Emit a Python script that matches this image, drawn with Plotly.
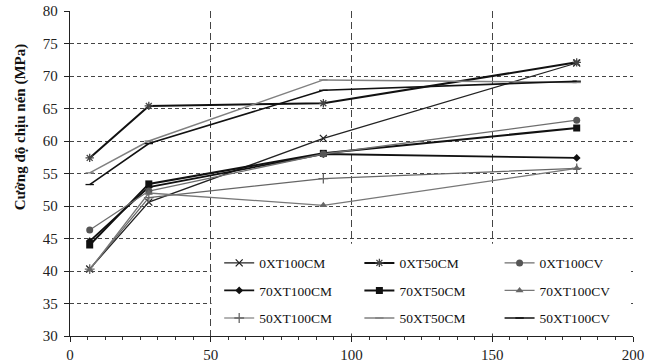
import plotly.graph_objects as go

ages = [7, 28, 90, 180]
s_0XT100CM = [40.3, 50.6, 60.4, 72.0]
s_0XT50CM = [57.4, 65.4, 65.8, 72.1]
s_0XT100CV = [46.3, 52.3, 58.0, 63.2]
s_70XT100CM = [44.6, 52.9, 58.0, 57.4]
s_70XT50CM = [44.0, 53.4, 58.1, 62.0]
s_70XT100CV = [40.2, 52.0, 50.1, 55.8]
s_50XT100CM = [40.3, 51.3, 54.2, 55.8]
s_50XT50CM = [55.1, 60.0, 69.4, 69.0]
s_50XT100CV = [53.3, 59.6, 67.8, 69.2]

x_ticks = [0, 50, 100, 150, 200]
y_ticks = [30, 35, 40, 45, 50, 55, 60, 65, 70, 75, 80]
y_title = "Cường độ chịu nén (MPa)"

FONT = "Liberation Serif"

series = [
    # name, values, line color, line width, marker symbol, marker size, marker color, legend
    ("0XT100CM", s_0XT100CM, "#222222", 1.3, "x-thin-open", 7, "#222222", "legend"),
    ("70XT100CM", s_70XT100CM, "#111111", 1.8, "diamond", 6, "#111111", "legend"),
    ("50XT100CM", s_50XT100CM, "#666666", 1.2, "cross-thin-open", 7, "#666666", "legend"),
    ("0XT50CM", s_0XT50CM, "#111111", 2.0, "asterisk-open", 7, "#444444", "legend2"),
    ("70XT50CM", s_70XT50CM, "#111111", 2.0, "square", 7, "#111111", "legend2"),
    ("50XT50CM", s_50XT50CM, "#808080", 1.5, "line-ew-open", 6, "#808080", "legend2"),
    ("0XT100CV", s_0XT100CV, "#6e6e6e", 1.3, "circle", 7, "#555555", "legend3"),
    ("70XT100CV", s_70XT100CV, "#777777", 1.3, "triangle-up", 7, "#666666", "legend3"),
    ("50XT100CV", s_50XT100CV, "#111111", 1.6, "line-ew-open", 6, "#111111", "legend3"),
]

fig = go.Figure()
for name, vals, lc, lw, sym, ms, mc, lg in series:
    marker = dict(symbol=sym, size=ms, color=mc)
    if sym.endswith("-open") or "thin" in sym or "line" in sym:
        marker["line"] = dict(color=mc, width=1.3)
    fig.add_trace(go.Scatter(
        x=ages, y=vals, name=name, mode="lines+markers",
        line=dict(color=lc, width=lw), marker=marker,
        legend=lg, legendgroup=name,
    ))

# white background behind the legend block
fig.add_shape(type="rect", xref="x", yref="y", x0=50.3, x1=199.3, y0=30.4, y1=44.2,
              fillcolor="white", line=dict(width=0), layer="between")

leg_common = dict(
    bgcolor="rgba(0,0,0,0)", borderwidth=0,
    font=dict(family=FONT, size=13.5, color="#111111"),
    xanchor="left", yanchor="top", tracegroupgap=7,
    traceorder="grouped", itemwidth=30,
)
fig.update_layout(
    legend=dict(x=0.265, y=0.272, **leg_common),
    legend2=dict(x=0.514, y=0.272, **leg_common),
    legend3=dict(x=0.763, y=0.272, **leg_common),
)

fig.update_xaxes(
    range=[0, 200], tickvals=x_ticks, ticktext=[str(v) for v in x_ticks],
    showline=True, linecolor="#222222", linewidth=1.3,
    ticks="outside", ticklen=5, tickcolor="#222222",
    minor=dict(dtick=6.25, tick0=0, ticks="outside", ticklen=3, tickcolor="#333333", showgrid=False),
    showgrid=True, gridcolor="#444444", gridwidth=1, griddash="7px,4px",
    zeroline=False, automargin=False, tickfont=dict(family=FONT, size=15, color="#222222"),
)
fig.update_yaxes(
    range=[30, 80], tickvals=y_ticks,
    showline=True, linecolor="#222222", linewidth=1.3,
    ticks="outside", ticklen=5, tickcolor="#222222", ticklabelstandoff=3,
    showgrid=True, gridcolor="#444444", gridwidth=1, griddash="4px,3px",
    zeroline=False, automargin=False, tickfont=dict(family=FONT, size=15, color="#222222"),
)

fig.add_annotation(
    text="<b>" + y_title + "</b>", xref="paper", yref="paper",
    x=-0.089, y=0.645, xanchor="center", yanchor="middle", textangle=-90,
    showarrow=False, font=dict(family=FONT, size=15, color="#111111"),
)

fig.update_layout(
    width=656, height=362,
    margin=dict(l=70, r=23, t=11, b=26),
    paper_bgcolor="white", plot_bgcolor="white",
    showlegend=True,
)

fig.write_html("out.html", post_script="document.body.style.margin='0px';",
               config={"displayModeBar": False})
